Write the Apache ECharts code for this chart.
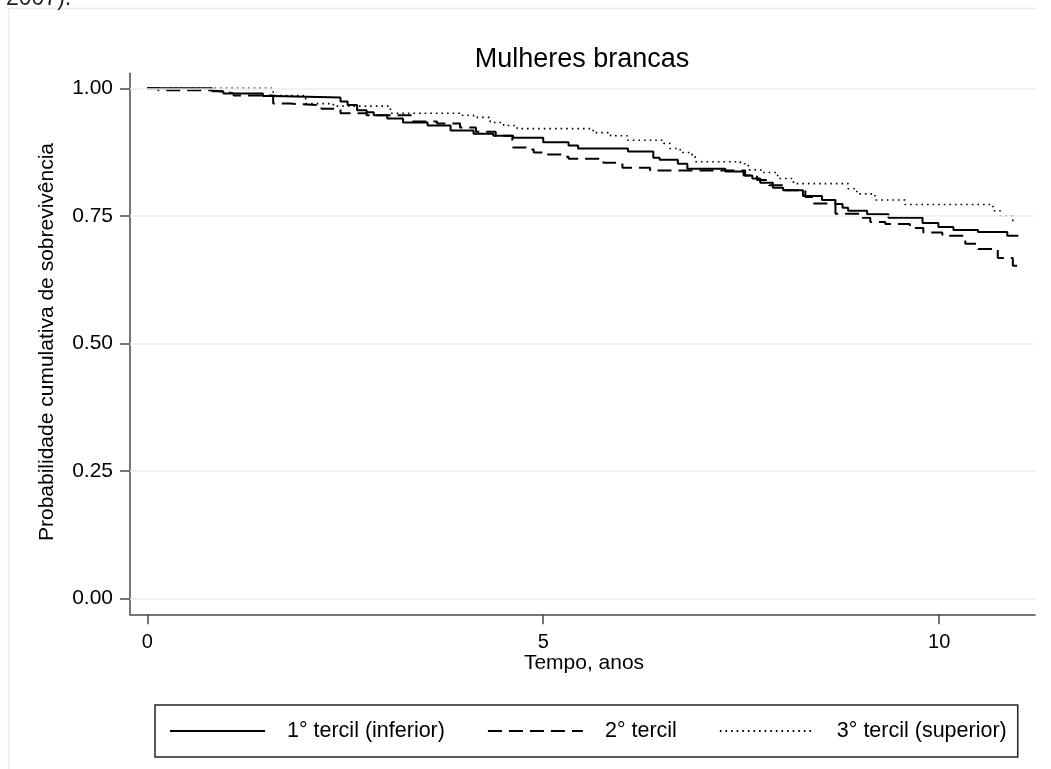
<!DOCTYPE html>
<html>
<head>
<meta charset="utf-8">
<script src="https://cdn.jsdelivr.net/npm/echarts@6/dist/echarts.min.js"></script>
<style>
  html, body { margin: 0; padding: 0; background: #fff; }
  #chart { width: 1051px; height: 769px; }
</style>
</head>
<body>
<div id="chart"></div>
<script>
// ---- data (Kaplan-Meier step points: time where new level starts, survival level) ----
const seriesNames = ["1° tercil (inferior)", "2° tercil", "3° tercil (superior)"];

const times1 = [0, 0.82, 0.96, 1.46, 1.59, 2.44, 2.53, 2.65, 2.77, 2.86, 3.03, 3.23, 3.54, 3.83, 4.12, 4.37, 4.62, 5.0, 5.32, 5.44, 6.07, 6.39, 6.47, 6.70, 6.82, 7.30, 7.53, 7.64, 7.74, 7.90, 8.03, 8.28, 8.52, 8.69, 8.78, 8.85, 9.09, 9.36, 9.79, 9.99, 10.18, 10.49, 10.86, 11.0];
const surv1  = [1.0, 0.994, 0.99, 0.985, 0.982, 0.974, 0.967, 0.957, 0.953, 0.947, 0.941, 0.933, 0.927, 0.917, 0.911, 0.907, 0.903, 0.894, 0.888, 0.882, 0.876, 0.864, 0.86, 0.852, 0.842, 0.837, 0.829, 0.823, 0.815, 0.805, 0.80, 0.789, 0.781, 0.773, 0.766, 0.76, 0.753, 0.746, 0.736, 0.728, 0.722, 0.718, 0.711, 0.711];

const times2 = [0, 0.14, 0.8, 1.0, 1.09, 1.59, 1.8, 2.2, 2.44, 2.77, 3.36, 3.66, 3.95, 4.15, 4.4, 4.61, 4.8, 4.88, 5.0, 5.25, 5.32, 5.76, 6.0, 6.35, 7.55, 7.7, 7.85, 8.05, 8.31, 8.41, 8.69, 9.0, 9.13, 9.32, 9.63, 9.8, 10.04, 10.33, 10.49, 10.74, 10.93, 11.0];
const surv2  = [1.0, 0.996, 0.993, 0.99, 0.986, 0.97, 0.967, 0.96, 0.951, 0.947, 0.935, 0.931, 0.923, 0.915, 0.907, 0.884, 0.88, 0.874, 0.87, 0.866, 0.862, 0.854, 0.844, 0.839, 0.829, 0.82, 0.81, 0.80, 0.787, 0.774, 0.754, 0.746, 0.738, 0.734, 0.726, 0.717, 0.711, 0.695, 0.685, 0.667, 0.652, 0.652];

const times3 = [0, 1.59, 2.0, 2.35, 3.07, 3.95, 4.12, 4.33, 4.5, 4.67, 5.63, 5.85, 6.06, 6.52, 6.6, 6.73, 6.88, 6.92, 7.49, 7.59, 7.75, 7.96, 8.16, 8.85, 8.96, 9.19, 9.57, 10.68, 10.77, 10.93, 10.96];
const surv3  = [1.0, 0.986, 0.97, 0.965, 0.951, 0.947, 0.943, 0.933, 0.927, 0.921, 0.913, 0.907, 0.898, 0.892, 0.882, 0.874, 0.868, 0.856, 0.852, 0.84, 0.835, 0.823, 0.813, 0.803, 0.793, 0.781, 0.772, 0.76, 0.75, 0.738, 0.738];

const xTicks = [0, 5, 10];
const yTicks = [0, 0.25, 0.5, 0.75, 1.0];

const titleText = "Mulheres brancas";
const xTitle = "Tempo, anos";
const yTitle = "Probabilidade cumulativa de sobrevivência";
const topNote = "2007).";

// ---- chart ----
const FONT = "Liberation Sans, Arial, sans-serif";
const AXIS_COLOR = "#4a4a4a";
const GRID_COLOR = "#e6eff2";

function pairs(t, s) { return t.map((v, i) => [v, s[i]]); }

const chart = echarts.init(document.getElementById('chart'), null, { renderer: 'canvas' });

const option = {
  animation: false,
  backgroundColor: '#ffffff',
  grid: { left: 130, right: 16, top: 73.3, bottom: 154.7, containLabel: false },
  xAxis: {
    type: 'value',
    min: -0.218, max: 11.21,
    axisLine: { show: true, onZero: false, lineStyle: { color: AXIS_COLOR, width: 1.5 } },
    axisTick: { show: true, customValues: xTicks, length: 10, inside: false, lineStyle: { color: AXIS_COLOR, width: 1.5 } },
    axisLabel: { show: true, customValues: xTicks, margin: 18, fontFamily: FONT, fontSize: 20, color: '#000',
      formatter: v => String(v) },
    splitLine: { show: false }
  },
  yAxis: {
    type: 'value',
    min: -0.0314, max: 1.0294,
    axisLine: { show: true, onZero: false, lineStyle: { color: AXIS_COLOR, width: 1.5 } },
    axisTick: { show: true, customValues: yTicks, length: 10, inside: false, lineStyle: { color: AXIS_COLOR, width: 1.5 } },
    axisLabel: { show: true, customValues: yTicks, margin: 17, fontFamily: FONT, fontSize: 21, color: '#000',
      formatter: v => Number(v).toFixed(2) },
    splitLine: { show: false }
  },
  legend: {
    left: 155, top: 705,
    orient: 'horizontal',
    padding: [15, 11, 15, 14],
    itemWidth: 95, itemHeight: 18, itemGap: 42,
    borderColor: '#222', borderWidth: 1.5, borderRadius: 0,
    backgroundColor: '#fff',
    itemStyle: { opacity: 0, color: 'transparent', borderWidth: 0 },
    textStyle: { fontFamily: FONT, fontSize: 21.5, color: '#000', padding: [0, 0, 0, 17] },
    data: seriesNames
  },
  series: [
    {
      name: '__grid', type: 'line', data: [], silent: true, z: 1,
      markLine: {
        silent: true, symbol: 'none', animation: false,
        label: { show: false },
        lineStyle: { color: GRID_COLOR, type: 'solid', width: 1.5 },
        data: yTicks.map(v => ({ yAxis: v }))
      }
    },
    {
      name: seriesNames[0], type: 'line', step: 'end', symbol: 'none', z: 3,
      lineStyle: { color: '#000', width: 2, type: 'solid' },
      itemStyle: { color: '#000' },
      data: pairs(times1, surv1)
    },
    {
      name: seriesNames[1], type: 'line', step: 'end', symbol: 'none', z: 3,
      lineStyle: { color: '#000', width: 2, type: [14, 7] },
      itemStyle: { color: '#000' },
      data: pairs(times2, surv2)
    },
    {
      name: seriesNames[2], type: 'line', step: 'end', symbol: 'none', z: 3,
      lineStyle: { color: '#000', width: 1.6, type: [1.6, 4] },
      itemStyle: { color: '#000' },
      data: pairs(times3, surv3)
    }
  ],
  graphic: [
    { type: 'line', silent: true, shape: { x1: 8, y1: 8.5, x2: 1036, y2: 8.5 }, style: { stroke: '#e3ecef', lineWidth: 1.5 } },
    { type: 'line', silent: true, shape: { x1: 8.5, y1: 8, x2: 8.5, y2: 769 }, style: { stroke: '#e3ecef', lineWidth: 1.5 } },
    { type: 'text', silent: true, left: 6, top: -13,
      style: { text: topNote, font: '23px ' + FONT, fill: '#222' } },
    { type: 'text', silent: true, x: 582, y: 60,
      style: { text: titleText, font: '27px ' + FONT, fill: '#000', align: 'center', verticalAlign: 'middle' } },
    { type: 'text', silent: true, x: 584, y: 663,
      style: { text: xTitle, font: '21px ' + FONT, fill: '#000', align: 'center', verticalAlign: 'middle' } },
    { type: 'text', silent: true, x: 47, y: 342, rotation: Math.PI / 2,
      style: { text: yTitle, font: '21px ' + FONT, fill: '#000', align: 'center', verticalAlign: 'middle' } }
  ]
};

chart.setOption(option);
</script>
</body>
</html>
